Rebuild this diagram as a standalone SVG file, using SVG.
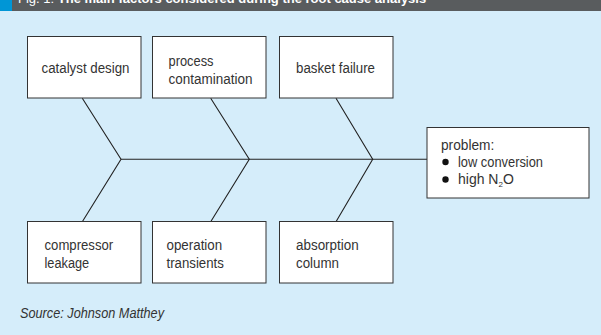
<svg xmlns="http://www.w3.org/2000/svg" width="601" height="335" viewBox="0 0 601 335">
<style>
text{font-family:"Liberation Sans",Arial,sans-serif;fill:#333;font-size:14px}
.box{fill:#fff;stroke:#333;stroke-width:1}
.ln{stroke:#222;stroke-width:1.1;fill:none}
.title{fill:#fff;font-size:13px}
</style>
<rect x="0" y="0" width="601" height="335" fill="#d5edfa"/>
<g id="title">
<rect x="0" y="0" width="601" height="11" fill="#595c5e"/>
<rect x="0" y="0" width="12" height="11" fill="#0096d6"/>
<text class="title" x="18" y="2.5">Fig. 1: <tspan font-weight="bold">The main factors considered during the root cause analysis</tspan></text>
</g>
<g id="connectors">
<line class="ln" x1="121" y1="159.3" x2="427" y2="159.3"/>
<polyline class="ln" points="82.3,98.3 121,159.3 82.3,221.7"/>
<polyline class="ln" points="210.7,98.3 249.3,159.3 210.7,221.7"/>
<polyline class="ln" points="336,98.3 372.7,159.3 336,221.7"/>
</g>
<g id="catalyst-design">
<rect class="box" x="27.5" y="36.5" width="113.5" height="61.5"/>
<text x="41.5" y="72.5" textLength="88" lengthAdjust="spacingAndGlyphs">catalyst design</text>
</g>
<g id="process-contamination">
<rect class="box" x="152.5" y="36.5" width="113.5" height="61.5"/>
<text x="168.5" y="65.5" textLength="45" lengthAdjust="spacingAndGlyphs">process</text>
<text x="168.5" y="83.5" textLength="84" lengthAdjust="spacingAndGlyphs">contamination</text>
</g>
<g id="basket-failure">
<rect class="box" x="279.5" y="36.5" width="113.5" height="61.5"/>
<text x="296" y="72.5" textLength="79" lengthAdjust="spacingAndGlyphs">basket failure</text>
</g>
<g id="compressor-leakage">
<rect class="box" x="27.5" y="221.5" width="113.5" height="61.5"/>
<text x="44.5" y="250" textLength="68.7" lengthAdjust="spacingAndGlyphs">compressor</text>
<text x="44.5" y="267.5" textLength="44.7" lengthAdjust="spacingAndGlyphs">leakage</text>
</g>
<g id="operation-transients">
<rect class="box" x="152.5" y="221.5" width="113.5" height="61.5"/>
<text x="166.5" y="250" textLength="55.7" lengthAdjust="spacingAndGlyphs">operation</text>
<text x="166.5" y="267.5" textLength="57.3" lengthAdjust="spacingAndGlyphs">transients</text>
</g>
<g id="absorption-column">
<rect class="box" x="279.5" y="221.5" width="113.5" height="61.5"/>
<text x="296" y="250" textLength="62.7" lengthAdjust="spacingAndGlyphs">absorption</text>
<text x="296" y="267.5" textLength="43" lengthAdjust="spacingAndGlyphs">column</text>
</g>
<g id="problem">
<rect class="box" x="427" y="127.5" width="162" height="70.5"/>
<text x="441" y="150" textLength="53.3" lengthAdjust="spacingAndGlyphs">problem:</text>
<circle cx="445.5" cy="162" r="3.2" fill="#111"/>
<text x="458" y="166.5" textLength="85" lengthAdjust="spacingAndGlyphs">low conversion</text>
<circle cx="445.5" cy="179.5" r="3.2" fill="#111"/>
<text x="458" y="184">high N<tspan font-size="8" dy="3">2</tspan><tspan dy="-3">O</tspan></text>
</g>
<text x="20" y="317.5" font-style="italic" font-size="12.5" textLength="144" lengthAdjust="spacingAndGlyphs">Source: Johnson Matthey</text>
</svg>
